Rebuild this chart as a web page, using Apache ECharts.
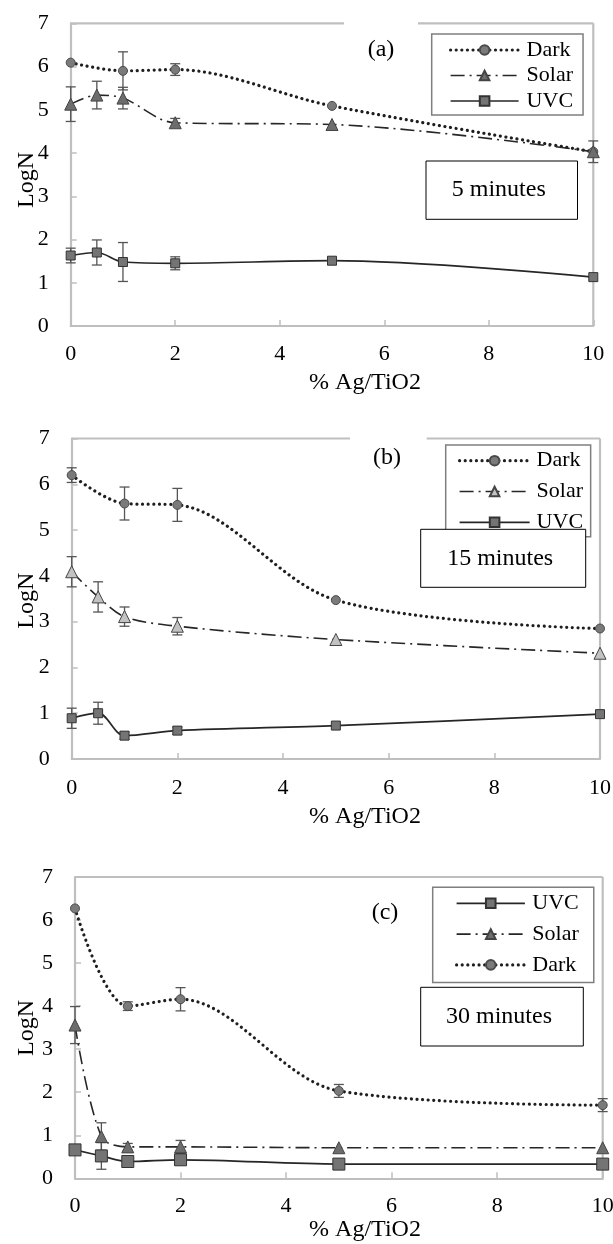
<!DOCTYPE html>
<html><head><meta charset="utf-8">
<script src="https://cdn.jsdelivr.net/npm/echarts@6/dist/echarts.min.js"></script>
<style>html,body{margin:0;padding:0;background:#fff}#c{width:613px;height:1244px}</style>
</head><body><div id="c"></div>
<script>
// ---------- data ----------
const xDark = [0, 1, 2, 5, 10];
const xOther = [0, 0.5, 1, 2, 5, 10];
const xTicks = [0, 2, 4, 6, 8, 10];
const yTicks = [0, 1, 2, 3, 4, 5, 6, 7];

// (a) 5 minutes
const darkA = [6.09, 5.90, 5.93, 5.09, 4.03];
const darkAErr = [0, 0.44, 0.135, 0, 0];
const solarA = [5.13, 5.34, 5.27, 4.70, 4.66, 4.03];
const solarAErr = [0.40, 0.32, 0.25, 0.10, 0, 0.25];
const uvcA = [1.63, 1.70, 1.48, 1.45, 1.51, 1.13];
const uvcAErr = [0.17, 0.29, 0.45, 0.15, 0, 0];

// (b) 15 minutes
const darkB = [6.20, 5.58, 5.55, 3.47, 2.85];
const darkBErr = [0.16, 0.36, 0.36, 0, 0];
const solarB = [4.09, 3.54, 3.11, 2.90, 2.61, 2.31];
const solarBErr = [0.33, 0.33, 0.21, 0.19, 0, 0];
const uvcB = [0.89, 1.00, 0.51, 0.62, 0.73, 0.98];
const uvcBErr = [0.22, 0.24, 0.08, 0.08, 0, 0];

// (c) 30 minutes
const darkC = [6.27, 4.00, 4.16, 2.03, 1.70];
const darkCErr = [0, 0.10, 0.27, 0.15, 0.15];
const solarC = [3.56, 0.97, 0.73, 0.73, 0.71, 0.71];
const solarCErr = [0.43, 0.32, 0.08, 0.15, 0, 0];
const uvcC = [0.66, 0.52, 0.39, 0.43, 0.33, 0.33];
const uvcCErr = [0, 0.31, 0, 0, 0, 0];

const panelLabels = ['(a)', '(b)', '(c)'];
const timeLabels = ['5 minutes', '15 minutes', '30 minutes'];
const xTitle = '% Ag/TiO2';
const yTitle = 'LogN';
const legendOrders = [['Dark', 'Solar', 'UVC'], ['Dark', 'Solar', 'UVC'], ['UVC', 'Solar', 'Dark']];

// ---------- layout / style ----------
const FONT = "'Liberation Serif', 'Times New Roman', serif";
const AXIS_GRAY = '#bfbfbf';
const LINE_COLOR = '#262626';
const SMOOTH = 0.33;

const lineStyles = {
  Dark: {color: '#1e1e1e', width: 3.2, type: [0.01, 5.6], cap: 'round'},
  Solar: {color: LINE_COLOR, width: 1.6, type: [14, 5, 2, 5]},
  UVC: {color: LINE_COLOR, width: 1.7, type: 'solid'}
};

const panels = [
  { grid: {left: 70.7, top: 23.3, width: 522.6, height: 302.7},
    data: {Dark: [darkA, darkAErr], Solar: [solarA, solarAErr], UVC: [uvcA, uvcAErr]},
    solarFill: '#6d6d6d', rectSize: 9,
    legend: {left: 431.7, top: 34, padding: [5, 10, 3, 17.3], itemGap: 3.5, itemWidth: 68, textPad: 3},
    gap: [344, 418],
    label: [381, 50], box: [426, 161, 151.5, 58.3],
    xTitleY: 383, yTitlePos: [26.7, 180], labelMargin: 17 },
  { grid: {left: 71.7, top: 438.5, width: 528.3, height: 320.5},
    data: {Dark: [darkB, darkBErr], Solar: [solarB, solarBErr], UVC: [uvcB, uvcBErr]},
    solarFill: '#c2c2c2', rectSize: 9,
    legend: {left: 445.7, top: 445, padding: [4.7, 7.6, 3.4, 12.3], itemGap: 8.8, itemWidth: 70, textPad: 2},
    gap: [350, 426.7],
    label: [387, 458], box: [420.7, 529.3, 165, 58],
    xTitleY: 817, yTitlePos: [26.7, 600.7], labelMargin: 18 },
  { grid: {left: 75, top: 877, width: 527.7, height: 301.3},
    data: {Dark: [darkC, darkCErr], Solar: [solarC, solarCErr], UVC: [uvcC, uvcCErr]},
    solarFill: '#6d6d6d', rectSize: 12,
    legend: {left: 432.7, top: 887.3, padding: [5, 15, 6.7, 22.3], itemGap: 8.8, itemWidth: 68.3, textPad: 2.4},
    gap: null,
    label: [385, 913], box: [420.7, 987.3, 162.6, 58.7],
    xTitleY: 1230, yTitlePos: [26.7, 1028], labelMargin: 17 }
];

const grids = [], xAxes = [], yAxes = [], series = [], legends = [], graphics = [];

function errSeries(xs, ys, errs, idx) {
  const d = [];
  xs.forEach((x, i) => { if (errs[i] > 0) d.push([x, ys[i] - errs[i], ys[i] + errs[i]]); });
  return {
    type: 'custom', xAxisIndex: idx, yAxisIndex: idx, z: 2, silent: true,
    data: d, encode: {x: 0, y: [1, 2]},
    renderItem(params, api) {
      const x = api.value(0);
      const lo = api.coord([x, api.value(1)]);
      const hi = api.coord([x, api.value(2)]);
      const hw = 5;
      const style = {stroke: '#555', lineWidth: 1.3, fill: null};
      return {type: 'group', children: [
        {type: 'line', shape: {x1: lo[0], y1: lo[1], x2: hi[0], y2: hi[1]}, style},
        {type: 'line', shape: {x1: lo[0] - hw, y1: lo[1], x2: lo[0] + hw, y2: lo[1]}, style},
        {type: 'line', shape: {x1: hi[0] - hw, y1: hi[1], x2: hi[0] + hw, y2: hi[1]}, style}
      ]};
    }
  };
}

panels.forEach((p, i) => {
  grids.push(Object.assign({outerBoundsMode: 'none', containLabel: false}, p.grid));
  xAxes.push({
    type: 'value', gridIndex: i, min: 0, max: 10, interval: 2,
    axisLine: {show: true, lineStyle: {color: AXIS_GRAY, width: 2.2}},
    axisTick: {show: true, inside: true, length: 6, lineStyle: {color: AXIS_GRAY, width: 1.5}},
    splitLine: {show: false},
    axisLabel: {fontFamily: FONT, fontSize: 22, color: '#000', margin: p.labelMargin,
      formatter: v => xTicks.includes(v) ? String(v) : ''}
  });
  yAxes.push({
    type: 'value', gridIndex: i, min: 0, max: 7, interval: 1,
    axisLine: {show: true, lineStyle: {color: AXIS_GRAY, width: 2.2}},
    axisTick: {show: true, inside: true, length: 6, lineStyle: {color: AXIS_GRAY, width: 1.5}},
    splitLine: {show: false},
    axisLabel: {fontFamily: FONT, fontSize: 22, color: '#000', margin: 22,
      formatter: v => yTicks.includes(v) ? String(v) : ''}
  });

  const suf = '_' + i;
  const [dY, dE] = p.data.Dark, [sY, sE] = p.data.Solar, [uY, uE] = p.data.UVC;
  series.push(errSeries(xDark, dY, dE, i), errSeries(xOther, sY, sE, i), errSeries(xOther, uY, uE, i));
  series.push({
    name: 'Dark' + suf, type: 'line', xAxisIndex: i, yAxisIndex: i, z: 3, smooth: SMOOTH,
    data: xDark.map((x, k) => [x, dY[k]]),
    symbol: 'circle', symbolSize: 9,
    itemStyle: {color: '#7a7a7a', borderColor: '#4a4a4a', borderWidth: 1},
    lineStyle: lineStyles.Dark
  });
  series.push({
    name: 'Solar' + suf, type: 'line', xAxisIndex: i, yAxisIndex: i, z: 3, smooth: SMOOTH,
    data: xOther.map((x, k) => [x, sY[k]]),
    symbol: 'triangle', symbolSize: 12,
    itemStyle: {color: p.solarFill, borderColor: '#444', borderWidth: 1},
    lineStyle: lineStyles.Solar
  });
  series.push({
    name: 'UVC' + suf, type: 'line', xAxisIndex: i, yAxisIndex: i, z: 3, smooth: SMOOTH,
    data: xOther.map((x, k) => [x, uY[k]]),
    symbol: 'rect', symbolSize: p.rectSize,
    itemStyle: {color: '#747474', borderColor: '#333', borderWidth: 1},
    lineStyle: lineStyles.UVC
  });

  const L = p.legend;
  legends.push({
    orient: 'vertical', left: L.left, top: L.top, padding: L.padding, itemGap: L.itemGap,
    itemWidth: L.itemWidth, itemHeight: 12, selectedMode: false,
    borderColor: '#7f7f7f', borderWidth: 1.5, backgroundColor: '#fff',
    data: legendOrders[i].map(n => ({name: n + suf, lineStyle: lineStyles[n]})),
    formatter: n => n.split('_')[0],
    textStyle: {fontFamily: FONT, fontSize: 22, color: '#000', padding: [0, 0, 0, L.textPad]}
  });

  // frame (top + right) in the plot's gray
  const g = p.grid, x0 = g.left, x1 = g.left + g.width, y0 = g.top, y1 = g.top + g.height;
  const border = {stroke: AXIS_GRAY, lineWidth: 2.2};
  if (p.gap) {
    graphics.push({type: 'line', shape: {x1: x0, y1: y0, x2: p.gap[0], y2: y0}, style: border, z: 1});
    graphics.push({type: 'line', shape: {x1: p.gap[1], y1: y0, x2: x1, y2: y0}, style: border, z: 1});
  } else {
    graphics.push({type: 'line', shape: {x1: x0, y1: y0, x2: x1, y2: y0}, style: border, z: 1});
  }
  graphics.push({type: 'line', shape: {x1: x1, y1: y0, x2: x1, y2: y1}, style: border, z: 1});

  graphics.push({type: 'text', x: p.label[0], y: p.label[1], z: 10,
    style: {text: panelLabels[i], font: '24px ' + FONT, fill: '#000', align: 'center', verticalAlign: 'middle'}});
  const b = p.box;
  graphics.push({type: 'rect', shape: {x: b[0], y: b[1], width: b[2], height: b[3]}, z: 10,
    style: {fill: '#fff', stroke: '#000', lineWidth: 1}});
  graphics.push({type: 'text', x: b[0] + b[2] / 2 - 3, y: b[1] + b[3] / 2, z: 11,
    style: {text: timeLabels[i], font: '24px ' + FONT, fill: '#000', align: 'center', verticalAlign: 'middle'}});
  graphics.push({type: 'text', x: 365, y: p.xTitleY, z: 10,
    style: {text: xTitle, font: '24px ' + FONT, fill: '#000', align: 'center', verticalAlign: 'middle'}});
  graphics.push({type: 'text', x: p.yTitlePos[0], y: p.yTitlePos[1], rotation: Math.PI / 2, z: 10,
    style: {text: yTitle, font: '24px ' + FONT, fill: '#000', align: 'center', verticalAlign: 'middle'}});
});

const chart = echarts.init(document.getElementById('c'), null, {renderer: 'canvas'});
chart.setOption({
  backgroundColor: '#fff',
  animation: false,
  grid: grids, xAxis: xAxes, yAxis: yAxes,
  legend: legends, series: series,
  graphic: {elements: graphics}
});
</script>
</body></html>
